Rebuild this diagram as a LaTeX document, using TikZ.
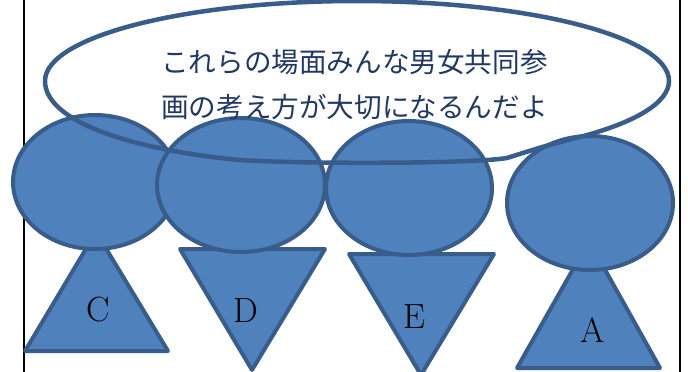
\documentclass[tikz,border=0pt]{standalone}
\usepackage{fontspec}
\newfontfamily\jpfont{Noto Sans CJK JP}
\definecolor{fillblue}{HTML}{4F81BD}
\definecolor{lineblue}{HTML}{385D8A}
\definecolor{textblue}{HTML}{1F3864}
\begin{document}
\begin{tikzpicture}[x=1pt,y=-1pt,
  head/.style={fill=fillblue,draw=lineblue,line width=4pt},
  body/.style={fill=fillblue,draw=lineblue,line width=4pt,line join=round},
  bubble/.style={draw=lineblue,line width=4.5pt},
  frameline/.style={draw=black,line width=2pt},
  letter/.style={font=\fontsize{35}{40}\selectfont,inner sep=0pt},
  jtext/.style={font=\jpfont\fontsize{27.6}{32}\selectfont,text=textblue,inner sep=0pt,anchor=west}]
\useasboundingbox (0,0) rectangle (688,372);
\clip (0,0) rectangle (688,372);
% frame
\draw[frameline] (24,-2) -- (24,374);
\draw[frameline] (680,-2) -- (680,374);
% bodies
\draw[body] (25,351) -- (168,351) -- (96,232) -- cycle;
\draw[body] (180,249) -- (325,249) -- (252,370) -- cycle;
\draw[body] (349,254) -- (494,254) -- (421,375) -- cycle;
\draw[body] (517,368) -- (660,368) -- (589,241) -- cycle;
% heads
\draw[head] (95,182) ellipse[x radius=82,y radius=67];
\draw[head] (241,185) ellipse[x radius=84,y radius=67];
\draw[head] (409,188) ellipse[x radius=83,y radius=67];
\draw[head] (590,203) ellipse[x radius=83,y radius=67];
% labels
\node[letter] (lc) at (98,310) {C};
\node[letter] (ld) at (246,311) {D};
\node[letter] (le) at (414,317) {E};
\node[letter] (la) at (593,330) {A};
% speech bubble
\draw[bubble] (45,81) arc[start angle=180,end angle=406.2,x radius=312,y radius=80]
  .. controls (545,146) .. (507,158)
  .. controls (470,164) and (300,164) .. (240,160)
  .. controls (150,152) and (45,126) .. (45,81) -- cycle;
\node[jtext] (t1) at (161,62) {これらの場面みんな男女共同参};
\node[jtext] (t2) at (161,107) {画の考え方が大切になるんだよ};
\end{tikzpicture}
\end{document}
